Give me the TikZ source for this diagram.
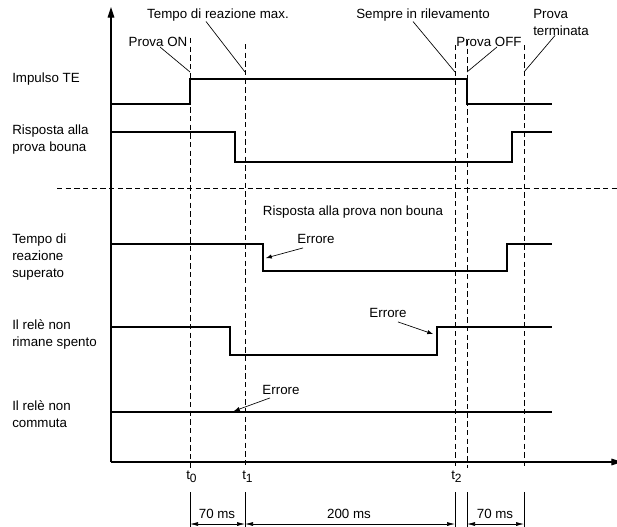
\documentclass[tikz,border=0pt]{standalone}
\usepackage{fontspec}
\setmainfont{Liberation Sans}
\usetikzlibrary{arrows,arrows.meta}

\newcommand{\tlab}[1]{t\raisebox{-2.5pt}{\fontsize{9}{9}\selectfont #1}}

\begin{document}
\begin{tikzpicture}[x=0.75pt,y=-0.75pt,
		every node/.style={font=\fontsize{10}{12.75}\selectfont, inner sep=0pt, align=left},
		axis/.style={line width=0.8pt, -{Triangle[length=8pt,width=5pt]}},
		signal/.style={line width=1.4pt},
		timeline/.style={line width=0.5pt, dash pattern=on 4pt off 2.5pt},
		pointer/.style={line width=0.5pt},
		errarrow/.style={line width=0.5pt, -latex},
		dimline/.style={line width=0.5pt, {Latex[length=6pt,width=3pt]}-{Latex[length=6pt,width=3pt]}}]
	\useasboundingbox (0,0) rectangle (617,526);
	% axes
	\draw[axis] (111,462) -- (111,7);
	\draw[axis] (111,462) -- (622,462);
	\node (tax) at (621,476) {t};
	% time marks
	\foreach \x/\s/\n in {190/38/t0, 245/44/t1, 455/45/t2, 467/40/t3, 524/45/t4}{
		\draw[timeline] (\x,\s) -- (\x,468);
		\coordinate (\n) at (\x,72);
		\coordinate (d\n) at (\x,524);
		\draw[pointer] (\x,492) -- (\x,532);
	}
	\draw[timeline] (57,188) -- (617,188);
	% labels at the top
	\node (tmax) at (218,15) {Tempo di reazione max.};
	\node (pon) at (158,42) {Prova ON};
	\node (semp) at (423,15) {Sempre in rilevamento};
	\node (poff) at (489,42) {Prova OFF};
	\node[anchor=west] (pterm) at (533,22) {Prova\\terminata};
	\draw[pointer] ([xshift=-9pt]tmax.south) -- (t1);
	\draw[pointer] ([xshift=1.5pt]pon.south) -- (t0);
	\draw[pointer] ([xshift=-7.5pt]semp.south) -- (t2);
	\draw[pointer] ([xshift=6pt]poff.south) -- (t3);
	\draw[pointer] ([xshift=-4.5pt]pterm.south) -- (t4);
	% signal names
	\node[anchor=west] (sig1) at (12,79) {Impulso TE};
	\node[anchor=west] (sig2) at (12,140) {Risposta alla\\prova bouna};
	\node (nok) at (353,212) {Risposta alla prova non bouna};
	\node[anchor=west] (sig3) at (12,257) {Tempo di\\reazione\\superato};
	\node[anchor=west] (sig4) at (12,334) {Il relè non\\rimane spento};
	\node[anchor=west] (sig5) at (12,414) {Il relè non\\commuta};
	% signals
	\draw[signal] (111,104) -- (190,104) -- (190,79) -- (467,79) -- (467,104) -- (552,104);
	\draw[signal] (111,132) -- (235,132) -- (235,162) -- (512,162) -- (512,132) -- (552,132);
	\draw[signal] (111,244) -- (263,244) -- (263,271) -- (507,271) -- (507,244) -- (552,244);
	\draw[signal] (111,327) -- (230,327) -- (230,355) -- (437,355) -- (437,327) -- (552,327);
	\draw[signal] (111,412) -- (552,412);
	% errors
	\node (err1) at (316,239) {Errore};
	\node (err2) at (388,313) {Errore};
	\node (err3) at (281,390) {Errore};
	\coordinate (e1) at (266,258);
	\coordinate (e2) at (433,334);
	\coordinate (e3) at (234,411);
	\draw[errarrow] ([shift={(-13,4)}]err1.south) -- (e1);
	\draw[errarrow] ([shift={(10,4)}]err2.south) -- (e2);
	\draw[errarrow] ([shift={(-11,3)}]err3.south) -- (e3);
	% time axis labels
	\node[anchor=base west] (l0) at (186,479) {\tlab{0}};
	\node[anchor=base west] (l1) at (242,479) {\tlab{1}};
	\node[anchor=base west] (l2) at (451,479) {\tlab{2}};
	% durations
	\draw[dimline] (dt0) -- (dt1);
	\draw[dimline] (dt1) -- (dt2);
	\draw[dimline] (dt3) -- (dt4);
	\node (d1) at (217,514) {70 ms};
	\node (d2) at (349,514) {200 ms};
	\node (d3) at (495,514) {70 ms};
\end{tikzpicture}
\end{document}
